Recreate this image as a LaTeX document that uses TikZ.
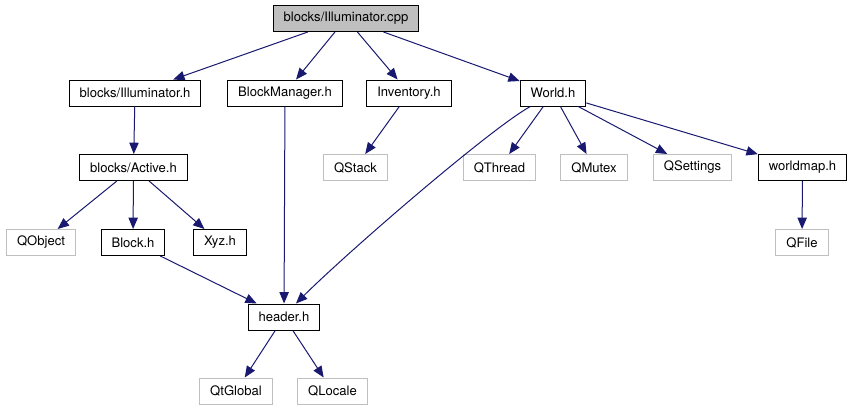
\documentclass[tikz,border=0pt]{standalone}
\usepackage{fontspec}
\setmainfont{TeX Gyre Heros}
\usetikzlibrary{arrows.meta}
\definecolor{edgeblue}{RGB}{25,25,112}
\definecolor{extgray}{RGB}{191,191,191}

\begin{document}
\begin{tikzpicture}[
  x=0.75pt, y=-0.75pt,
  file/.style={rectangle, draw=black, fill=white, line width=0.75pt,
               inner xsep=7.9pt, inner ysep=0pt, minimum height=19.5pt,
               font=\fontsize{9.8}{11}\selectfont},
  root/.style={file, fill=extgray},
  ext/.style={file, draw=extgray},
  arr/.style={-{Triangle[length=8.5pt,width=7pt]}, line width=0.75pt, color=edgeblue}
]
  \useasboundingbox (0,0) rectangle (852,411);

  \node[root] (cpp) at (346,18.5) {blocks/Illuminator.cpp};

  \node[file] (illh)  at (135,93) {blocks/Illuminator.h};
  \node[file] (bman)  at (285,93) {BlockManager.h};
  \node[file] (inv)   at (409,93) {Inventory.h};
  \node[file] (world) at (553,93) {World.h};

  \node[file] (active)    at (133.5,167.5) {blocks/Active.h};
  \node[ext]  (qstack)    at (355.5,167.5) {QStack};
  \node[ext]  (qthread)   at (499.5,167.5) {QThread};
  \node[ext]  (qmutex)    at (594,167.5)   {QMutex};
  \node[ext]  (qsettings) at (692.5,167.5) {QSettings};
  \node[file] (wmap)      at (802.5,167.5) {worldmap.h};

  \node[ext]  (qobject) at (41,242.5)  {QObject};
  \node[file] (block)   at (133,242.5) {Block.h};
  \node[file] (xyz)     at (220,242.5) {Xyz.h};
  \node[ext]  (qfile)   at (802,242.5) {QFile};

  \node[file] (header) at (284,317) {header.h};

  \node[ext] (qtglobal) at (236,391)   {QtGlobal};
  \node[ext] (qlocale)  at (332.5,391) {QLocale};

  \draw[arr] (cpp) -- (illh);
  \draw[arr] (cpp) -- (bman);
  \draw[arr] (cpp) -- (inv);
  \draw[arr] (cpp) -- (world);

  \draw[arr] (illh) -- (active);
  \draw[arr] (bman) -- (header);
  \draw[arr] (inv) -- (qstack);

  \draw[arr] ([xshift=-17pt]world.south) .. controls +(-40,22) and +(50,-50) .. ([xshift=9pt]header.north);
  \draw[arr] (world) -- (qthread);
  \draw[arr] (world) -- (qmutex);
  \draw[arr] (world) -- (qsettings);
  \draw[arr] (world) -- (wmap);
  \draw[arr] (wmap) -- (qfile);

  \draw[arr] (active) -- (qobject);
  \draw[arr] (active) -- (block);
  \draw[arr] (active) -- (xyz);
  \draw[arr] (block) -- (header);

  \draw[arr] (header) -- (qtglobal);
  \draw[arr] (header) -- (qlocale);
\end{tikzpicture}
\end{document}
